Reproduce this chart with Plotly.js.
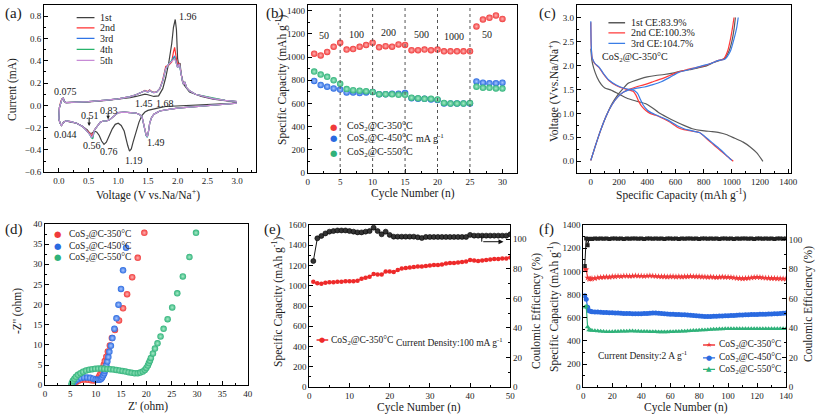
<!DOCTYPE html>
<html><head><meta charset="utf-8">
<script src="https://cdn.plot.ly/plotly-3.0.1.min.js"></script>
<style>html,body{margin:0;padding:0;background:#fff}#p{width:817px;height:416px}</style>
</head><body><div id="p"></div>
<script>
// ---------- (a) CV curves ----------
const cv1V = [3.0,2.8,2.5,2.2,2.0,1.9,1.8,1.7,1.6,1.5,1.45,1.4,1.35,1.3,1.25,1.22,1.19,1.16,1.13,1.1,1.05,1.0,0.95,0.9,0.85,0.8,0.76,0.72,0.68,0.64,0.6,0.56,0.52,0.48,0.4,0.3,0.2,0.12,0.08,0.044,0.02,0.0,0.01,0.03,0.05,0.075,0.09,0.12,0.3,0.5,0.8,1.0,1.2,1.3,1.4,1.45,1.5,1.6,1.68,1.75,1.8,1.85,1.9,1.93,1.96,1.98,2.0,2.02,2.04,2.06,2.1,2.15,2.2,2.3,2.4,2.6,2.8,3.0];
const cv1I = [0.02,0.015,0.01,0.005,0.0,-0.005,-0.01,-0.02,-0.03,-0.045,-0.06,-0.09,-0.15,-0.23,-0.33,-0.39,-0.41,-0.36,-0.29,-0.23,-0.18,-0.16,-0.17,-0.21,-0.27,-0.33,-0.35,-0.32,-0.27,-0.24,-0.23,-0.25,-0.25,-0.22,-0.19,-0.16,-0.15,-0.14,-0.15,-0.18,-0.16,-0.12,-0.02,0.03,0.055,0.065,0.035,0.025,0.027,0.032,0.045,0.055,0.07,0.08,0.095,0.1,0.095,0.08,0.085,0.15,0.25,0.38,0.55,0.7,0.77,0.68,0.42,0.36,0.38,0.28,0.19,0.15,0.12,0.1,0.08,0.055,0.04,0.03];
const cvV = [3.0,2.8,2.5,2.2,2.0,1.8,1.7,1.65,1.6,1.56,1.53,1.51,1.49,1.47,1.45,1.43,1.4,1.35,1.3,1.2,1.1,1.0,0.95,0.9,0.85,0.8,0.75,0.7,0.65,0.6,0.57,0.55,0.52,0.48,0.44,0.4,0.3,0.2,0.12,0.08,0.044,0.02,0.0,0.01,0.03,0.05,0.075,0.09,0.12,0.3,0.5,0.8,1.0,1.2,1.3,1.4,1.45,1.5,1.53,1.55,1.6,1.65,1.7,1.75,1.8,1.85,1.9,1.93,1.95,1.97,2.0,2.03,2.05,2.08,2.1,2.12,2.15,2.2,2.3,2.4,2.6,2.8,3.0];
const cv2I = [0.02,0.012,0.0,-0.015,-0.025,-0.04,-0.05,-0.065,-0.08,-0.11,-0.16,-0.23,-0.28,-0.265,-0.22,-0.15,-0.1,-0.08,-0.07,-0.065,-0.06,-0.065,-0.085,-0.11,-0.13,-0.14,-0.14,-0.15,-0.18,-0.22,-0.26,-0.27,-0.25,-0.23,-0.21,-0.19,-0.16,-0.145,-0.14,-0.15,-0.18,-0.16,-0.12,-0.02,0.03,0.055,0.065,0.035,0.025,0.027,0.033,0.048,0.058,0.078,0.095,0.12,0.135,0.125,0.14,0.128,0.118,0.122,0.15,0.23,0.35,0.36,0.39,0.48,0.52,0.45,0.36,0.38,0.3,0.22,0.19,0.21,0.16,0.13,0.1,0.085,0.06,0.045,0.035];
const cv3I = [0.02,0.012,0.0,-0.015,-0.025,-0.04,-0.05,-0.065,-0.08,-0.11,-0.16,-0.23,-0.285,-0.27,-0.22,-0.15,-0.1,-0.08,-0.07,-0.065,-0.06,-0.065,-0.085,-0.11,-0.13,-0.14,-0.14,-0.15,-0.18,-0.22,-0.29,-0.29,-0.26,-0.23,-0.21,-0.19,-0.16,-0.145,-0.14,-0.15,-0.18,-0.16,-0.12,-0.02,0.03,0.055,0.065,0.035,0.025,0.027,0.033,0.048,0.058,0.078,0.095,0.12,0.13,0.12,0.135,0.125,0.115,0.12,0.15,0.22,0.33,0.37,0.4,0.43,0.44,0.4,0.34,0.37,0.3,0.22,0.19,0.21,0.16,0.13,0.1,0.085,0.06,0.045,0.035];
const cv4I = [0.02,0.012,0.0,-0.015,-0.025,-0.04,-0.05,-0.065,-0.08,-0.11,-0.16,-0.23,-0.285,-0.27,-0.22,-0.15,-0.1,-0.08,-0.07,-0.065,-0.06,-0.065,-0.085,-0.11,-0.13,-0.14,-0.14,-0.15,-0.18,-0.22,-0.3,-0.29,-0.26,-0.23,-0.21,-0.19,-0.16,-0.145,-0.14,-0.15,-0.18,-0.16,-0.12,-0.02,0.03,0.055,0.065,0.035,0.025,0.027,0.033,0.048,0.058,0.078,0.095,0.12,0.13,0.12,0.135,0.125,0.115,0.12,0.15,0.22,0.33,0.37,0.4,0.42,0.43,0.39,0.34,0.37,0.3,0.22,0.19,0.21,0.16,0.13,0.1,0.09,0.065,0.045,0.035];
const cv5I = [0.02,0.012,0.0,-0.015,-0.025,-0.04,-0.05,-0.065,-0.08,-0.11,-0.16,-0.23,-0.28,-0.265,-0.22,-0.15,-0.1,-0.08,-0.07,-0.065,-0.06,-0.065,-0.085,-0.11,-0.13,-0.14,-0.14,-0.15,-0.18,-0.22,-0.28,-0.285,-0.26,-0.23,-0.21,-0.19,-0.16,-0.145,-0.14,-0.15,-0.18,-0.16,-0.12,-0.02,0.03,0.055,0.065,0.035,0.025,0.027,0.033,0.048,0.058,0.078,0.095,0.12,0.13,0.12,0.135,0.125,0.115,0.12,0.15,0.22,0.33,0.37,0.4,0.41,0.42,0.39,0.34,0.37,0.3,0.22,0.19,0.21,0.16,0.13,0.1,0.085,0.06,0.045,0.035];
const cvNames = ['1st','2nd','3rd','4th','5th'];
const cvColors = ['#404040','#ff3030','#2f74e6','#27b36b','#c78bd6'];

// ---------- (b) rate ----------
const rateCycle = [1,2,3,4,5,6,7,8,9,10,11,12,13,14,15,16,17,18,19,20,21,22,23,24,25,26,27,28,29,30];
const rate350 = [1030,1015,1045,1090,1125,1065,1070,1090,1105,1125,1085,1095,1090,1110,1105,1060,1060,1065,1060,1065,1050,1050,1050,1050,1050,1265,1325,1340,1360,1330];
const rate450 = [795,760,745,730,720,695,695,690,695,700,680,680,685,685,690,645,640,640,635,630,600,600,600,600,600,790,780,775,775,780];
const rate550 = [875,850,830,800,770,725,715,710,705,700,680,680,680,675,675,650,645,640,640,635,605,600,600,600,605,745,735,735,730,730];
const rateLabels = ['50','100','200','500','1000','50'];
const rateLabelX = [2.5,7.55,12.4,17.6,22.6,27.6];
const rateLabelY = [1184,1199,1210,1199,1179,1199];
const sampleNames = ['CoS<sub>2</sub>@C-350°C','CoS<sub>2</sub>@C-450°C','CoS<sub>2</sub>@C-550°C'];
const sampleColors = ['#f03a3a','#2a6ae0','#30b27a'];
const sampleLight = ['#ffb3b3','#a9c6ff','#a8ecc8'];

// ---------- (c) GCD ----------
const c1DisCap = [0,8,20,45,75,100,140,200,260,330,390,430,480,540,600,660,720,790,860,910,960,1020,1080,1130,1175,1220];
const c1DisV = [2.35,2.1,1.95,1.75,1.6,1.53,1.49,1.4,1.31,1.25,1.2,1.13,1.02,0.92,0.83,0.75,0.68,0.64,0.62,0.6,0.56,0.48,0.4,0.3,0.18,0.0];
const c1ChgCap = [0,30,70,110,150,190,230,260,300,350,400,460,520,580,640,700,760,820,870,910,950,980,1000,1015,1025];
const c1ChgV = [0.02,0.3,0.65,0.95,1.2,1.38,1.52,1.62,1.67,1.72,1.76,1.79,1.81,1.84,1.88,1.91,1.95,1.99,2.06,2.1,2.15,2.3,2.5,2.75,3.0];
const c2DisCap = [0,3,10,30,60,90,130,180,230,270,300,320,340,360,390,420,460,500,540,580,620,660,700,740,770,800,840,880,920,960,990,1010];
const c2DisV = [2.9,2.4,2.15,2.03,1.95,1.82,1.68,1.58,1.52,1.49,1.46,1.38,1.25,1.15,1.06,1.0,0.96,0.91,0.85,0.78,0.7,0.66,0.64,0.62,0.6,0.53,0.42,0.32,0.22,0.12,0.05,0.0];
const c2ChgCap = [0,30,70,110,150,190,230,270,320,380,440,500,560,620,680,740,800,850,900,940,970,990,1005,1015];
const c2ChgV = [0.02,0.3,0.65,0.95,1.18,1.34,1.44,1.5,1.55,1.6,1.66,1.72,1.79,1.86,1.91,1.95,1.99,2.04,2.1,2.13,2.3,2.55,2.8,3.0];
const c3DisCap = [0,3,10,30,60,90,130,180,230,270,300,330,350,370,400,430,460,500,540,580,620,660,700,740,770,800,840,880,920,960,985,1000];
const c3DisV = [2.92,2.4,2.15,2.04,1.96,1.83,1.69,1.59,1.53,1.5,1.49,1.42,1.3,1.18,1.07,1.01,0.97,0.92,0.87,0.8,0.73,0.68,0.65,0.62,0.6,0.54,0.44,0.34,0.24,0.13,0.06,0.02];
const c3ChgCap = [0,30,70,110,150,190,230,270,320,380,440,500,560,620,680,740,800,850,900,950,990,1015,1035,1045];
const c3ChgV = [0.02,0.3,0.65,0.95,1.18,1.34,1.44,1.49,1.52,1.55,1.6,1.66,1.75,1.85,1.9,1.95,2.0,2.04,2.1,2.13,2.3,2.55,2.8,3.0];
const gcdNames = ['1st CE:83.9%','2nd CE:100.3%','3rd CE:104.7%'];
const gcdColors = ['#5a5a5a','#ff3a3a','#3a7de6'];

// ---------- (d) EIS ----------
const eis350Re = [5.5,5.8,6.2,6.7,7.3,7.9,8.5,9.1,9.6,10.0,10.3,10.6,10.8,11.0,11.2,11.4,11.6,11.8,12.1,12.4,12.8,13.2,13.8,14.6,15.4,16.2,17.2,18.3,19.6];
const eis350Im = [0.1,0.5,0.9,1.2,1.4,1.45,1.4,1.25,1.2,1.3,1.6,2.0,2.5,3.0,3.6,4.3,5.1,6.0,7.1,8.4,9.9,11.7,13.7,16.1,19.1,22.6,26.8,31.6,37.8];
const eis450Re = [5.3,5.6,6.0,6.5,7.1,7.7,8.3,8.9,9.5,10.0,10.4,10.8,11.1,11.3,11.5,11.7,11.8,11.9,12.1,12.3,12.5,12.7,13.0,13.3,13.7,14.1,14.5,15.0,15.4,16.0];
const eis450Im = [0.1,0.6,1.1,1.5,1.8,1.95,1.95,1.85,1.65,1.45,1.35,1.4,1.6,2.0,2.5,3.0,3.6,4.2,5.0,5.9,7.0,8.3,9.8,11.7,14.0,16.6,20.0,23.9,28.5,34.1];
const eis550Re = [5.2,5.3,5.5,5.8,6.1,6.5,7.0,7.5,8.1,8.7,9.3,9.9,10.5,11.1,11.7,12.3,12.9,13.5,14.1,14.7,15.3,15.9,16.5,17.1,17.7,18.3,18.8,19.3,19.7,20.0,20.3,20.5,20.7,20.9,21.3,21.7,22.2,22.8,23.4,24.2,25.1,26.1,27.2,28.5,29.8];
const eis550Im = [0.1,0.6,1.1,1.6,2.1,2.6,3.0,3.35,3.65,3.85,4.0,4.1,4.15,4.15,4.1,4.05,4.0,3.9,3.8,3.7,3.55,3.4,3.25,3.1,3.0,3.0,3.15,3.4,3.8,4.3,4.9,5.5,6.1,6.8,7.9,9.1,10.4,12.1,14.0,16.4,19.3,22.8,27.0,31.8,37.8];

// ---------- (e) cycling 100 mA/g ----------
const eCycle = [1,2,3,4,5,6,7,8,9,10,11,12,13,14,15,16,17,18,19,20,21,22,23,24,25,26,27,28,29,30,31,32,33,34,35,36,37,38,39,40,41,42,43,44,45,46,47,48,49,50];
const eCap = [1040,1025,1020,1030,1035,1035,1040,1040,1045,1045,1045,1050,1070,1080,1090,1115,1110,1110,1140,1140,1135,1155,1170,1175,1180,1185,1190,1190,1195,1200,1205,1205,1210,1220,1225,1225,1230,1235,1240,1255,1250,1245,1250,1255,1260,1265,1265,1270,1270,1280];
const eCE = [85.3,100.7,102.3,104,105.2,105.6,106,106,106,105.6,105.2,104.7,104.7,105.2,105.6,107.9,105.6,103.4,105.2,103,101.8,101.8,101.8,101.8,101.8,101.8,101.4,100.9,101.6,101.6,101.6,101.6,101.6,101.6,101.6,101.6,101.6,101.6,101.6,103,102.5,102.5,102.5,102.5,102.5,102.5,102.5,102.5,102.5,103.4];

// ---------- (f) cycling 2 A/g ----------
const fCycle = [1,2,3,4,5,6,8,10,12,14,16,18,20,22,24,26,28,30,32,34,36,38,40,42,44,46,48,50,52,54,56,58,60,62,64,66,68,70,72,74,76,78,80,82,84,86,88,90,92,94,96,98,100,102,104,106,108,110,112,114,116,118,120,122,124,126,128,130,132,134,136,138,140];
const f350 = [1020,1015,945,935,935,938,940,945,948,950,952,950,955,955,958,956,960,960,958,960,962,960,960,958,960,962,960,958,956,955,955,953,955,955,953,955,952,955,955,958,956,955,955,953,952,950,952,950,948,950,952,950,950,948,945,942,940,938,940,942,945,948,950,948,945,943,942,940,940,938,937,936,935];
const f450 = [790,760,690,660,655,652,650,650,648,646,645,644,642,640,640,638,637,636,636,635,634,634,635,636,637,638,640,640,638,636,634,632,630,630,628,627,626,625,624,622,620,618,615,612,610,610,610,612,612,614,615,617,618,620,620,622,623,624,625,626,627,628,628,630,630,631,632,632,634,635,636,638,640];
const f550 = [690,700,520,495,492,490,488,486,484,482,480,480,480,481,482,483,484,484,485,485,484,483,482,482,481,480,480,479,478,477,477,478,479,480,481,482,483,484,486,488,490,491,492,494,495,497,498,500,501,502,503,504,505,505,505,506,506,506,505,505,505,506,506,505,505,505,504,504,505,505,505,505,505];
const fCE = [82,100.5,96,100.2,100.4,100.3,100.5,100.4,100.6,100.4,100.5,100.3,100.5,100.6,100.4,100.5,100.3,100.5,100.4,100.6,100.5,100.4,100.5,100.3,100.5,100.6,100.4,100.5,100.4,100.5,100.3,100.5,100.6,100.4,100.5,100.3,100.5,100.4,100.6,100.5,100.4,100.5,100.3,100.5,100.6,100.4,100.5,100.4,100.5,100.3,100.5,100.6,100.4,100.5,100.3,100.5,100.4,100.6,100.5,100.4,100.5,100.3,100.5,100.6,100.4,100.5,100.4,100.5,100.3,100.5,100.6,100.4,100.5];

// ---------- build ----------
const FONT = 'Liberation Serif';
const TXT = '#1a1a1a';
const traces = [];
[cv1I, cv2I, cv3I, cv4I, cv5I].forEach((I, k) => {
  traces.push({x: k === 0 ? cv1V : cvV, y: I, xaxis:'x', yaxis:'y', mode:'lines', name: cvNames[k],
    line:{color: cvColors[k], width: 1.2}, showlegend:false});
});
[rate350, rate450, rate550].forEach((v, k) => {
  traces.push({x: rateCycle, y: v, xaxis:'x2', yaxis:'y2', mode:'markers', showlegend:false,
    marker:{size:6.5, color: sampleColors[k], gradient:{type:'radial', color: sampleLight[k]}, line:{width:0}}});
});
[[c1DisCap,c1DisV,c1ChgCap,c1ChgV],[c2DisCap,c2DisV,c2ChgCap,c2ChgV],[c3DisCap,c3DisV,c3ChgCap,c3ChgV]].forEach((d,k)=>{
  traces.push({x:d[0], y:d[1], xaxis:'x3', yaxis:'y3', mode:'lines', line:{color:gcdColors[k], width:1.2, shape:'spline', smoothing:0.6}, showlegend:false});
  traces.push({x:d[2], y:d[3], xaxis:'x3', yaxis:'y3', mode:'lines', line:{color:gcdColors[k], width:1.2, shape:'spline', smoothing:0.6}, showlegend:false});
});
[[eis350Re,eis350Im],[eis450Re,eis450Im],[eis550Re,eis550Im]].forEach((d,k)=>{
  traces.push({x:d[0], y:d[1], xaxis:'x4', yaxis:'y4', mode:'markers', showlegend:false,
    marker:{size:6.5, color: sampleColors[k], gradient:{type:'radial', color: sampleLight[k]}, line:{width:0}}});
});
traces.push({x:eCycle, y:eCap, xaxis:'x5', yaxis:'y5', mode:'lines+markers', showlegend:false,
  line:{color:'#ee2a2a', width:1.2}, marker:{size:4.5, color:'#ee2a2a'}});
traces.push({x:eCycle, y:eCE, xaxis:'x5', yaxis:'y6', mode:'lines+markers', showlegend:false,
  line:{color:'#111', width:1}, marker:{size:5, color:'#333', line:{color:'#000', width:0.6}}});
const fSym = ['star','circle','triangle-up'];
[f350, f450, f550].forEach((v,k)=>{
  traces.push({x:fCycle, y:v, xaxis:'x6', yaxis:'y7', mode:'lines+markers', showlegend:false,
    line:{color:sampleColors[k], width:1.2}, marker:{size:5, symbol:fSym[k], color:sampleColors[k]}});
});
traces.push({x:fCycle, y:fCE, xaxis:'x6', yaxis:'y8', mode:'lines+markers', showlegend:false,
  line:{color:'#111', width:1}, marker:{size:4, symbol:'square', color:'#222'}});

const W = 817, H = 416;
function dx(a,b){return [a/W, b/W];}
function dy(top,bot){return [1-bot/H, 1-top/H];}
function ax(extra){
  return Object.assign({showline:true, linecolor:'#000', linewidth:1, mirror:true, ticks:'inside', ticklen:4,
    tickcolor:'#000', showgrid:false, zeroline:false, ticklabelstandoff:0,
    tickfont:{family:FONT, size:9, color:TXT, weight:'normal'}}, extra);
}
const mn = (d) => ({ticks:'inside', ticklen:2, dtick:d, tickcolor:'#000'});

const layout = {
  width:W, height:H, margin:{l:0,r:0,t:0,b:0, autoexpand:false}, paper_bgcolor:'#fff', plot_bgcolor:'#fff',
  font:{family:FONT, color:TXT}, showlegend:false,
  xaxis: ax({domain:dx(44,256), anchor:'y', range:[-0.25,3.32], dtick:0.5, tick0:0, tickformat:'.1f', minor:mn(0.25)}),
  yaxis: ax({domain:dy(5,172.3), anchor:'x', range:[-0.6,0.9], dtick:0.2, tick0:0, tickformat:'.1f', minor:mn(0.1)}),
  xaxis2: ax({domain:dx(307.7,516.7), anchor:'y2', range:[0,32.2], dtick:5, minor:mn(2.5)}),
  yaxis2: ax({domain:dy(5,173), anchor:'x2', range:[0,1450], dtick:200, minor:mn(100)}),
  xaxis3: ax({domain:dx(576.7,790.7), anchor:'y3', range:[-100,1417], dtick:200, minor:mn(100)}),
  yaxis3: ax({domain:dy(5,173.3), anchor:'x3', range:[-0.25,3.26], dtick:0.5, tick0:0, tickformat:'.1f', minor:mn(0.25)}),
  xaxis4: ax({domain:dx(45,247.7), anchor:'y4', range:[0,40], dtick:5, minor:mn(2.5)}),
  yaxis4: ax({domain:dy(224,385.3), anchor:'x4', range:[0,40], dtick:5, minor:mn(2.5)}),
  xaxis5: ax({domain:dx(309.3,510.3), anchor:'y5', range:[0,50], dtick:10, minor:mn(5)}),
  yaxis5: ax({domain:dy(225,387), anchor:'x5', range:[0,1600], dtick:200, minor:mn(100)}),
  yaxis6: ax({domain:dy(225,387), anchor:'x5', overlaying:'y5', side:'right', range:[0,109.7], dtick:20, mirror:false, minor:mn(10)}),
  xaxis6: ax({domain:dx(583.3,786), anchor:'y7', range:[0,140], dtick:20, minor:mn(10)}),
  yaxis7: ax({domain:dy(225,387.3), anchor:'x6', range:[0,1400], dtick:200, minor:mn(100)}),
  yaxis8: ax({domain:dy(225,387.3), anchor:'x6', overlaying:'y7', side:'right', range:[0,109.7], dtick:20, mirror:false, minor:mn(10)}),
  shapes:[], annotations:[]
};

const A = layout.annotations, S = layout.shapes;
function txt(xr, yr, x, y, t, opt){ A.push(Object.assign({xref:xr, yref:yr, x:x, y:y, text:t, showarrow:false,
  font:{family:FONT, size:10, color:TXT}, xanchor:'left', yanchor:'middle'}, opt||{})); }
const fnt = (s) => ({family:FONT, size:s, color:TXT});

// panel labels
[['(a)',3,13],['(b)',264,13],['(c)',537,13],['(d)',3,229],['(e)',262,229],['(f)',537,229]].forEach(p=>{
  txt('paper','paper', p[1]/W, 1-p[2]/H, p[0], {font:fnt(15)});
});
// axis titles (pixel positions)
const xTitles = [['Voltage (V vs.Na/Na<sup>+</sup>)',148,194],['Cycle Number (n)',412.5,193.5],['Specific Capacity (mAh g<sup>-1</sup>)',681,194],
  ["Z' (ohm)",147.5,406.5],['Cycle Number (n)',418.5,407.5],['Cycle Number (n)',685.5,407.5]];
xTitles.forEach(t=>txt('paper','paper',t[1]/W,1-t[2]/H,t[0],{xanchor:'center', font:fnt(11.5)}));
const yTitles = [['Current (mA)',12,90],['Specific Capacity (mAh g<sup>-1</sup>)',281,80],['Voltage (Vvs.Na/Na<sup>+</sup>)',553,91],
  ["-Z'' (ohm)",17,311],['Specific Capacity (mAh g<sup>-1</sup>)',277,302],['Coulomic Efficiency (%)',536,311],
  ['Specific Capacity (mAh g<sup>-1</sup>)',553,307],['Coulomic Efficiency (%)',808,304]];
yTitles.forEach(t=>txt('paper','paper',t[1]/W,1-t[2]/H,t[0],{xanchor:'center', textangle:-90, font:fnt(11.5)}));

// (a) legend + peak labels
const legAY = [0.787,0.695,0.6,0.503,0.404];
cvNames.forEach((n,k)=>{
  S.push({type:'line', xref:'x', yref:'y', x0:0.3, x1:0.6, y0:legAY[k], y1:legAY[k], line:{color:cvColors[k], width:1.3}});
  txt('x','y',0.66,legAY[k],n,{font:fnt(10)});
});
[['1.96',2.18,0.8],['0.075',0.11,0.125],['0.044',0.12,-0.26],['0.51',0.52,-0.09],['0.83',0.84,-0.045],
 ['1.45',1.44,0.02],['1.68',1.78,0.02],['0.56',0.55,-0.36],['0.76',0.85,-0.41],['1.19',1.26,-0.49],['1.49',1.64,-0.33]]
 .forEach(p=>txt('x','y',p[1],p[2],p[0],{xanchor:'center', font:fnt(10)}));
A.push({xref:'x',yref:'y',x:0.51,y:-0.185,ax:0,ay:-10,text:'',showarrow:true,arrowhead:2,arrowsize:0.7,arrowwidth:1,arrowcolor:'#222'});
A.push({xref:'x',yref:'y',x:0.83,y:-0.125,ax:0,ay:-8,text:'',showarrow:true,arrowhead:2,arrowsize:0.7,arrowwidth:1,arrowcolor:'#222'});

// (b) rate labels, dotted lines, legend
[5,10,15,20,25].forEach(v=>S.push({type:'line', xref:'x2', yref:'y2 domain', x0:v, x1:v, y0:0, y1:1, line:{color:'#555', width:1, dash:'dot'}}));
rateLabels.forEach((t,k)=>txt('x2','y2',rateLabelX[k],rateLabelY[k],t,{xanchor:'center', font:fnt(10)}));
const legBY = [397,300,175];
sampleNames.forEach((n,k)=>{
  txt('x2','y2',4.05,legBY[k],'●',{xanchor:'center', font:{family:'DejaVu Sans',size:8.5,color:sampleColors[k]}});
  txt('x2','y2',5.7,legBY[k],n,{font:fnt(10)});
});
txt('x2','y2',16.3,300,'mA g<sup>-1</sup>',{font:fnt(10)});

// (c) legend
const legCY = [2.89,2.68,2.46];
gcdNames.forEach((n,k)=>{
  S.push({type:'line', xref:'x3', yref:'y3', x0:125, x1:243, y0:legCY[k], y1:legCY[k], line:{color:gcdColors[k], width:1.3}});
  txt('x3','y3',268,legCY[k],n,{font:fnt(10)});
});
txt('x3','y3',314,2.17,'CoS<sub>2</sub>@C-350°C',{xanchor:'center', font:fnt(10)});

// (d) legend
const legDY = [37.4,34.5,31.7];
sampleNames.forEach((n,k)=>{
  txt('x4','y4',2.43,legDY[k],'●',{xanchor:'center', font:{family:'DejaVu Sans',size:8.5,color:sampleColors[k]}});
  txt('x4','y4',4.4,legDY[k],n,{font:fnt(9.5)});
});

// (e) legend, text, arrow
S.push({type:'line', xref:'x5', yref:'y5', x0:1.8, x1:4.7, y0:464, y1:464, line:{color:'#ee2a2a', width:1.3}});
txt('x5','y5',3.25,464,'●',{xanchor:'center', font:{family:'DejaVu Sans',size:7,color:'#ee2a2a'}});
txt('x5','y5',5.0,464,'CoS<sub>2</sub>@C-350°C',{font:fnt(9.5)});
txt('x5','y5',21,447,'Current Density:100 mA g<sup>-1</sup>',{font:fnt(9.5)});
S.push({type:'line', xref:'x5', yref:'y5', x0:42.9, x1:42.9, y0:1495, y1:1435, line:{color:'#111', width:1}});
A.push({xref:'x5',yref:'y5',axref:'x5',ayref:'y5',x:48.3,y:1435,ax:42.9,ay:1435,text:'',showarrow:true,arrowhead:2,arrowsize:1,arrowwidth:1,arrowcolor:'#111'});

// (f) legend + text
const legFY = [365,253,155];
const fGlyph = ['★','●','▲'];
sampleNames.forEach((n,k)=>{
  S.push({type:'line', xref:'x6', yref:'y7', x0:82.7, x1:91, y0:legFY[k], y1:legFY[k], line:{color:sampleColors[k], width:1.3}});
  txt('x6','y7',86.85,legFY[k],fGlyph[k],{xanchor:'center', font:{family:'DejaVu Sans',size:7,color:sampleColors[k]}});
  txt('x6','y7',92,legFY[k],n,{font:fnt(9.5)});
});
txt('x6','y7',8.8,279,'Current Density:2 A g<sup>-1</sup>',{font:fnt(9.5)});

Plotly.newPlot('p', traces, layout, {staticPlot:true});
</script></body></html>
